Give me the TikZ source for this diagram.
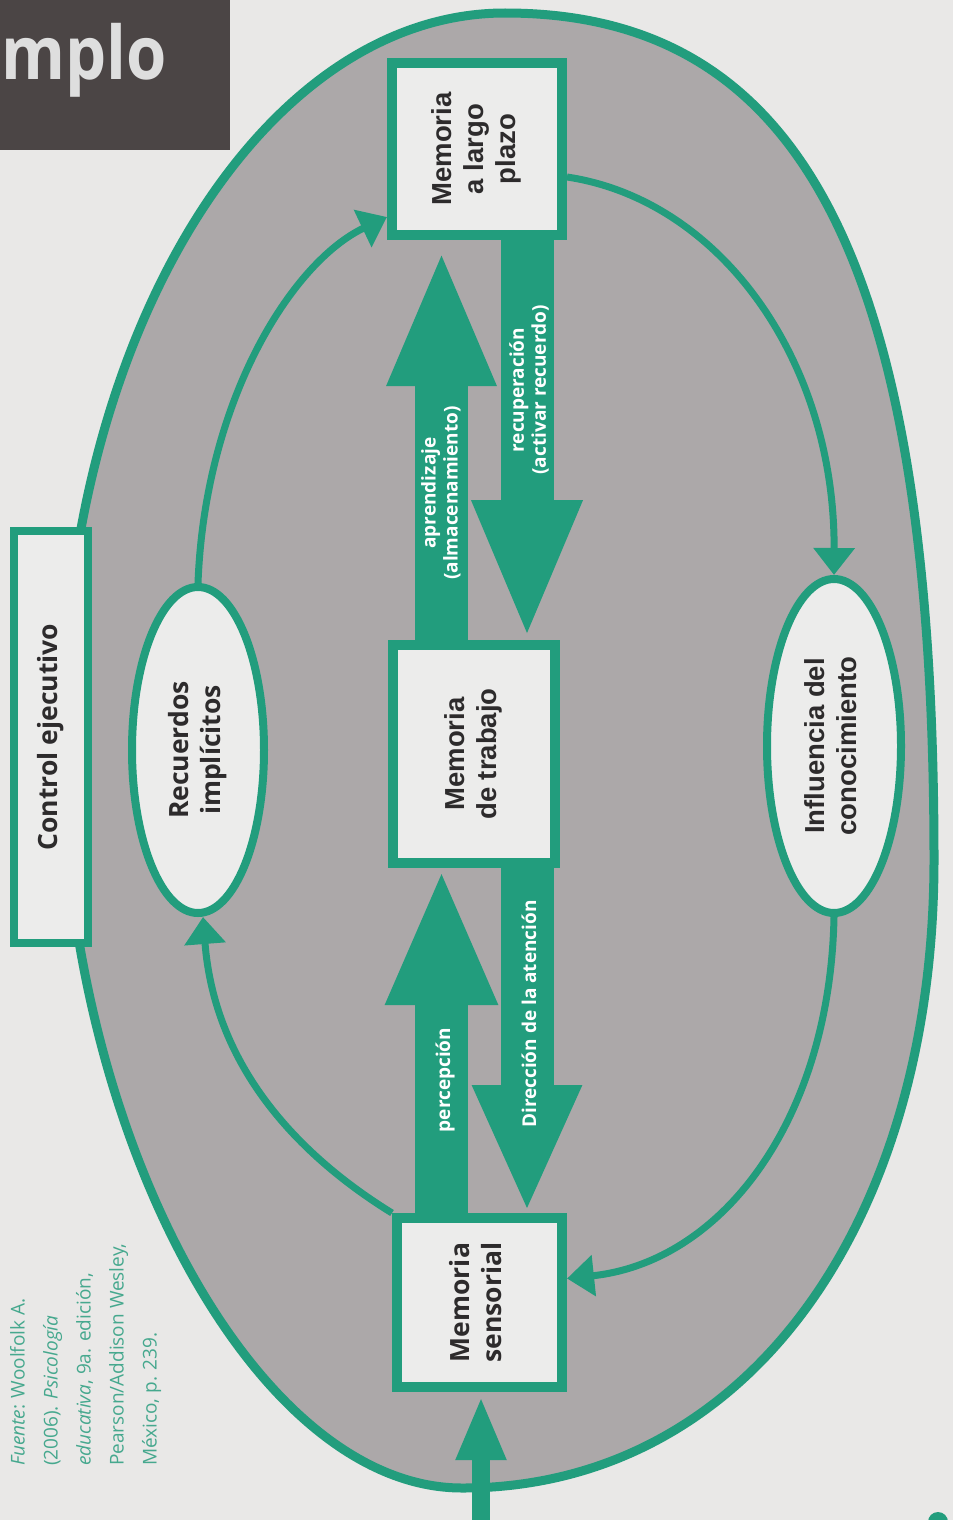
\documentclass[tikz,border=0pt]{standalone}
\usepackage{graphicx}
\usepackage{fontspec}
\setmainfont{Open Sans}
\newfontfamily\helv{Liberation Sans}
\usetikzlibrary{arrows.meta,shapes.geometric,calc}

\definecolor{verde}{RGB}{34,157,125}
\definecolor{papel}{RGB}{233,232,231}
\definecolor{fondo}{RGB}{172,168,169}
\definecolor{caja}{RGB}{236,236,235}
\definecolor{tinta}{RGB}{45,43,44}
\definecolor{titulo}{RGB}{75,69,69}
\definecolor{tituloletra}{RGB}{222,222,222}
\definecolor{fuentecol}{RGB}{70,168,142}

\pgfdeclarelayer{base}
\pgfdeclarelayer{enlaces}
\pgfsetlayers{base,enlaces,main}

% two or more centred lines, read from bottom to top
\newcommand{\rottxt}[1]{\rotatebox{90}{\begin{tabular}{@{}c@{}}#1\end{tabular}}}

\tikzset{
  memoria/.style={rectangle, draw=verde, line width=10pt, fill=caja, inner sep=0pt, text=tinta},
  ovalo/.style={ellipse, draw=verde, line width=8pt, fill=caja, inner sep=0pt, text=tinta},
  flujo/.style={draw=verde, line width=7pt, -{Triangle[length=27pt,width=40pt]}},
  bloque/.style={draw=verde, line width=53pt},
  etiq/.style={text=white, rotate=90, align=center, inner sep=0pt,
               font=\bfseries\fontsize{19}{22}\selectfont},
  helvbold/.style={font=\helv\bfseries\fontsize{27.5}{32}\selectfont},
  sansbold/.style={font=\bfseries\fontsize{26.5}{32}\selectfont},
}

\begin{document}
\begin{tikzpicture}[x=1pt,y=-1pt]
\useasboundingbox (0,0) rectangle (953,1520);

\begin{pgfonlayer}{base}
\fill[papel] (0,0) rectangle (953,1520);
% title tab
\fill[titulo] (0,0) rectangle (230,150);
% page marker
\fill[verde] (938,1522) circle (10);
% large grey oval
\filldraw[fill=fondo, draw=verde, line width=9pt]
  (505,13) .. controls (805,13) and (934,267) .. (934,860)
           .. controls (934,1225) and (745,1488) .. (462,1488)
           .. controls (254,1488) and (62,1129) .. (62,740)
           .. controls (62,339) and (260,13) .. (505,13) -- cycle;
\end{pgfonlayer}

\node[anchor=base west, inner sep=0pt, text=tituloletra,
      font=\bfseries\fontsize{74}{80}\selectfont] (tit) at (1,80) {\scalebox{0.88}[1]{mplo}};

% memory stores
\node[memoria, helvbold, minimum width=170pt, minimum height=172pt] (ltm) at (477,149)
  {\rottxt{Memoria\\a largo\\plazo}};
\node[memoria, helvbold, minimum width=162pt, minimum height=218pt] (wm) at (474,754)
  {\rottxt{Memoria\\de trabajo}};
\node[memoria, sansbold, minimum width=165pt, minimum height=169pt] (sm) at (479.5,1302.5)
  {\rottxt{Memoria\\sensorial}};

\node[ovalo, sansbold, minimum width=132pt, minimum height=326pt] (rec) at (198,750)
  {\rottxt{Recuerdos\\implícitos}};
\node[ovalo, helvbold, minimum width=134pt, minimum height=334pt] (inf) at (834,746)
  {\rottxt{Influencia del\\conocimiento}};

\node[rectangle, draw=verde, line width=8pt, fill=caja, inner sep=0pt, text=tinta,
      sansbold, minimum width=74pt, minimum height=412pt] (ctrl) at (51,737)
  {\rottxt{Control ejecutivo}};

% curved cycle around the stores, tucked under the boxes
\begin{pgfonlayer}{enlaces}
\draw[flujo] (sm.north west) .. controls (290,1150) and (214,1060) .. ([xshift=5pt]rec.south);
\draw[flujo] (rec.north) .. controls (205,400) and (292,262) .. ([yshift=-68pt]ltm.west);
\draw[flujo] ([yshift=-28pt]ltm.east) .. controls (720,200) and (835,360) .. (inf.north);
\draw[flujo] (inf.south) .. controls (830,1120) and (722,1262) .. ([yshift=24pt]sm.east);
\end{pgfonlayer}

% broad transfer arrows
\coordinate (xa) at (441.5,0);
\coordinate (xb) at (527,0);
\draw[bloque, -{Triangle[length=137pt,width=99pt]}, shorten >=9pt]
  (xa |- wm.north) -- (xa |- ltm.south);
\draw[bloque, -{Triangle[length=140pt,width=100pt]}]
  (xb |- ltm.south) -- (xb |- wm.north);
\draw[bloque, -{Triangle[length=137pt,width=102pt]}]
  (xa |- sm.north) -- (xa |- wm.south);
\draw[bloque, -{Triangle[length=128pt,width=100pt]}]
  (xb |- wm.south) -- (xb |- sm.north);

\node[etiq] (lapr) at (441,493) {aprendizaje\\(almacenamiento)};
\node[etiq] (lrec) at (529,390) {recuperación\\(activar recuerdo)};
\node[etiq] (lper) at (445,1080) {percepción};
\node[etiq] (ldir) at (529,1014) {Dirección de la atención};

% sensory input
\coordinate (entrada) at (481,1520);
\draw[draw=verde, line width=18pt, -{Triangle[length=64pt,width=46pt]}, shorten >=4pt]
  (entrada) -- (entrada |- sm.south);

% source note
\node[rotate=90, anchor=north west, align=left, inner sep=0pt, text=fuentecol,
      font=\fontsize{19}{33}\selectfont] (fuente) at (10,1466)
  {\textit{Fuente}: Woolfolk A.\\(2006). \textit{Psicología}\\\textit{educativa}, 9a. edición,\\Pearson/Addison Wesley,\\México, p. 239.};
\end{tikzpicture}
\end{document}
